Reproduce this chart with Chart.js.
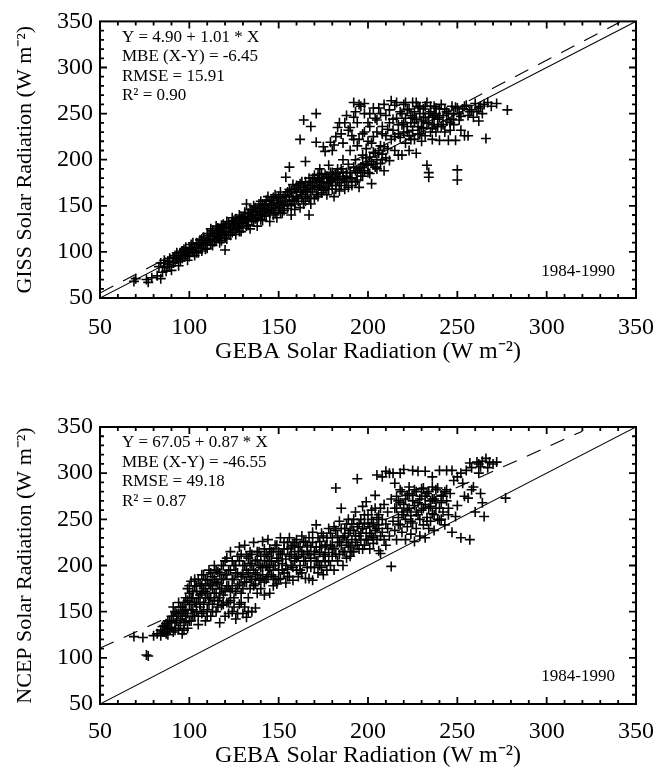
<!DOCTYPE html>
<html>
<head>
<meta charset="utf-8">
<script src="https://cdn.jsdelivr.net/npm/chart.js@4/dist/chart.umd.min.js"></script>
<style>
html,body{margin:0;padding:0;background:#fff;}
#wrap{position:relative;width:670px;height:770px;}
canvas{position:absolute;left:0;}
#c1{top:0;}
#c2{top:385px;}
</style>
</head>
<body>
<div id="wrap">
<canvas id="c1" width="670" height="385"></canvas>
<canvas id="c2" width="670" height="385"></canvas>
</div>
<script>
// ---------------- data ----------------
const tickValues = [50, 100, 150, 200, 250, 300, 350];
const xAxisTitle = 'GEBA Solar Radiation (W m\u207B\u00B2)';
const topYTitle = 'GISS Solar Radiation (W m\u207B\u00B2)';
const bottomYTitle = 'NCEP Solar Radiation (W m\u207B\u00B2)';
const topStats = ['Y = 4.90 + 1.01 * X', 'MBE (X-Y) = -6.45', 'RMSE = 15.91', 'R\u00B2 = 0.90'];
const bottomStats = ['Y = 67.05 + 0.87 * X', 'MBE (X-Y) = -46.55', 'RMSE = 49.18', 'R\u00B2 = 0.87'];
const periodLabel = '1984-1990';

const oneToOneLine = [[50, 50], [350, 350]];
const topFitLine = [[50, 55.4], [341, 349.3]];
const bottomFitLine = [[50, 110.6], [320, 345.5]];

// GEBA (x) vs GISS (y)
const gissPoints = [
[69,68],[70,71],[76,70],[77,67],[79,72],[82,74],[84,71],[85,78],[83,84],[84,88],[86,83],[87,79],[88,86],[86,91],[89,93],[90,80],[91,88],[92,96],[93,92],[94,85],[95,99],[96,93],[97,103],[98,97],[99,91],[100,104],[100,98],[101,108],[102,101],[103,96],[104,110],[104,104],[105,99],[106,113],[107,107],[107,101],[108,116],[109,110],[110,104],[110,120],[111,113],[112,108],[112,125],[113,117],[114,111],[115,121],[115,128],[116,115],[117,124],[117,110],[118,119],[119,130],[119,126],[120,102],[120,115],[121,122],[121,133],[122,127],[123,118],[124,131],[124,137],[125,124],[126,129],[126,119],[127,134],[128,140],[128,127],[129,122],[130,137],[130,131],[131,143],[132,128],[132,152],[133,135],[134,146],[134,125],[135,140],[136,133],[136,150],[137,143],[138,128],[138,137],[139,148],[140,155],[140,141],[141,134],[142,146],[142,152],[143,139],[144,160],[144,144],[145,133],[146,150],[146,156],[147,140],[148,147],[148,162],[149,137],[150,153],[150,145],[151,165],[152,158],[152,142],[153,150],[154,162],[154,181],[155,147],[156,168],[156,155],[156,192],[157,140],[158,160],[158,173],[159,152],[160,165],[160,158],[161,170],[162,222],[162,148],[163,162],[163,176],[164,243],[164,168],[165,155],[165,198],[166,172],[166,160],[167,140],[167,180],[168,236],[168,165],[169,175],[170,158],[170,183],[171,250],[171,219],[172,168],[172,178],[173,190],[173,172],[174,164],[174,185],[175,214],[175,176],[176,209],[176,170],[177,182],[177,162],[178,194],[178,175],[179,219],[179,186],[180,168],[180,178],[181,216],[181,160],[182,184],[182,172],[183,235],[183,190],[184,175],[184,166],[185,228],[185,190],[186,180],[186,200],[187,240],[187,168],[188,186],[188,176],[189,232],[189,195],[190,180],[190,210],[191,226],[191,172],[192,262],[192,246],[193,188],[193,200],[194,215],[194,178],[195,170],[195,222],[196,258],[196,192],[197,205],[197,182],[198,261],[198,230],[199,196],[199,212],[200,186],[200,240],[201,250],[201,203],[202,174],[202,218],[203,225],[203,195],[204,207],[204,245],[205,230],[205,190],[206,207],[206,256],[207,215],[208,236],[208,200],[209,188],[210,226],[210,248],[211,212],[212,199],[212,240],[213,264],[213,222],[214,232],[215,259],[215,210],[216,245],[217,228],[217,205],[218,252],[219,238],[219,205],[220,260],[220,230],[221,245],[221,218],[222,254],[222,236],[223,226],[223,210],[224,248],[224,240],[225,262],[225,232],[226,222],[226,252],[227,207],[227,244],[228,258],[228,236],[229,228],[229,250],[230,242],[230,220],[231,255],[231,234],[232,246],[232,226],[233,194],[233,262],[234,186],[234,240],[234,181],[235,252],[235,230],[236,246],[236,222],[237,258],[237,238],[238,250],[238,230],[239,244],[240,221],[240,255],[241,236],[242,248],[243,255],[243,230],[244,242],[245,221],[245,250],[246,232],[247,258],[247,244],[248,238],[249,257],[249,221],[250,189],[250,178],[251,243],[251,250],[252,232],[253,255],[254,226],[255,259],[256,226],[256,248],[258,254],[259,246],[260,261],[261,252],[262,242],[263,258],[264,250],[266,223],[267,262],[269,258],[272,261],[278,254],
[86,88],[88,90],[89,84],[91,94],[92,89],[93,99],[94,94],[95,90],[96,101],[97,96],[98,105],[99,100],[100,95],[101,103],[102,110],[103,105],[104,99],[105,108],[106,104],[107,114],[108,109],[109,103],[110,112],[111,118],[112,114],[113,107],[113,123],[114,118],[115,113],[116,126],[116,120],[117,116],[118,129],[118,112],[119,122],[120,118],[120,127],[121,114],[122,131],[122,121],[123,126],[124,121],[125,134],[125,129],[126,136],[127,126],[128,131],[128,122],[129,138],[129,132],[130,126],[131,136],[131,140],[132,133],[133,142],[133,129],[134,138],[135,145],[135,134],[136,140],[137,148],[137,136],[138,144],[139,140],[139,152],[140,135],[140,147],[141,144],[141,152],[142,139],[143,150],[143,156],[144,148],[145,142],[145,155],[146,146],[147,153],[147,159],[148,142],[149,152],[149,158],[150,148],[150,160],[151,155],[151,143],[152,150],[153,160],[153,145],[154,155],[155,165],[155,152],[156,160],[157,150],[157,166],[158,156],[159,168],[159,146],[160,160],[160,172],[161,155],[162,165],[162,174],[163,158],[164,170],[164,152],[165,166],[165,176],[166,165],[167,158],[167,172],[168,176],[168,152],[169,168],[169,180],[170,170],[171,162],[171,176],[172,184],[172,160],[173,178],[174,170],[175,180],[175,167],[176,184],[177,174],[178,180],[178,168],[179,176],[180,186],[180,172],[181,180],[182,168],[183,178],[183,186],[184,182],[185,172],[186,186],[187,178],[188,182],[189,170],[190,186],[191,180],[192,192],[193,176],[194,186],[195,190],[196,182],[197,195],[198,188],[199,202],[200,194],[201,185],[202,198],[203,208],[204,192],[205,200],[206,210],[207,196],[208,206],[209,214],[210,202],
[180,210],[182,225],[184,240],[186,218],[188,248],[190,235],[192,222],[193,252],[194,240],[195,260],[197,228],[198,250],[200,220],[201,236],[203,256],[205,243],[207,250],[208,228],[209,260],[211,233],[212,254],[214,244],[215,225],[216,262],[217,238],[218,224],[219,250],[220,240],[221,262],[222,230],[223,255],[224,222],[225,246],[226,240],[227,262],[228,228],[229,256],[230,235],[231,246],[232,258],[233,240],[234,250],[235,258],[236,234],[237,248],[238,256],[239,236],[240,246],[241,260],[242,238],[244,252],[246,240],[248,250],[250,256],[252,247],[254,258],[257,252],[262,256],[265,260]
];

// GEBA (x) vs NCEP (y)
const ncepPoints = [
[69,123],[74,122],[76,103],[77,102],[80,124],[82,126],[84,130],[84,124],[85,134],[86,128],[87,137],[88,131],[88,125],[89,140],[90,133],[90,145],[91,155],[91,128],[92,138],[93,148],[94,132],[94,160],[95,142],[96,155],[96,126],[97,150],[97,138],[98,165],[98,145],[99,175],[99,132],[100,158],[100,170],[101,140],[101,183],[102,152],[102,165],[103,178],[103,145],[104,160],[104,172],[105,136],[105,185],[106,155],[106,168],[107,148],[107,178],[108,190],[108,160],[109,140],[109,172],[110,184],[110,152],[111,165],[111,195],[112,145],[112,178],[113,158],[113,188],[114,170],[114,200],[115,150],[115,182],[116,162],[116,193],[117,138],[117,175],[118,185],[118,157],[119,200],[119,168],[120,145],[120,190],[121,178],[121,208],[122,160],[122,195],[123,172],[123,215],[124,150],[124,185],[125,200],[125,165],[126,142],[126,192],[127,178],[127,210],[128,158],[128,220],[129,188],[129,170],[130,148],[130,200],[131,222],[131,182],[132,144],[132,195],[133,208],[133,165],[134,188],[134,215],[135,150],[135,200],[136,178],[136,225],[137,154],[137,192],[138,206],[138,170],[139,184],[139,215],[140,198],[140,175],[141,226],[141,190],[142,205],[142,168],[143,212],[143,185],[144,198],[144,228],[145,170],[145,205],[146,190],[146,215],[147,178],[147,200],[148,222],[148,185],[149,208],[149,180],[150,195],[150,215],[151,230],[151,186],[152,202],[152,212],[153,192],[153,225],[154,181],[154,207],[155,218],[155,196],[156,230],[156,188],[157,212],[157,200],[158,222],[158,184],[159,205],[159,215],[160,195],[160,228],[161,210],[161,188],[162,220],[162,200],[163,232],[163,192],[164,212],[164,205],[165,225],[165,186],[166,215],[166,198],[167,230],[167,186],[168,208],[168,220],[169,184],[169,236],[170,212],[170,198],[171,244],[171,220],[172,205],[172,192],[173,226],[173,214],[174,198],[174,235],[175,210],[175,190],[176,222],[176,204],[177,230],[177,195],[178,214],[178,240],[179,200],[179,222],[180,210],[180,230],[181,195],[181,218],[182,284],[182,238],[183,205],[183,225],[184,212],[184,248],[185,262],[185,222],[186,230],[186,200],[187,215],[187,240],[188,225],[188,208],[189,250],[189,235],[190,210],[190,220],[191,245],[191,228],[192,215],[192,238],[193,258],[193,225],[194,294],[194,242],[195,232],[195,218],[196,250],[196,228],[197,264],[197,240],[198,222],[198,246],[199,269],[199,235],[200,228],[200,255],[201,242],[201,218],[202,260],[202,232],[203,246],[203,224],[204,276],[204,238],[205,252],[205,228],[206,244],[206,216],[207,213],[207,262],[208,236],[208,250],[209,228],[209,266],[210,245],[210,222],[211,240],[211,258],[212,300],[212,232],[213,199],[213,272],[214,248],[214,300],[215,289],[215,238],[216,262],[216,228],[217,252],[217,270],[218,282],[218,244],[219,236],[219,258],[220,304],[220,266],[221,250],[221,228],[222,276],[222,242],[223,278],[223,262],[224,234],[224,254],[225,270],[225,246],[226,226],[226,282],[227,258],[227,240],[228,302],[228,268],[229,250],[229,232],[230,275],[230,260],[231,244],[231,284],[232,230],[232,266],[233,252],[233,278],[234,240],[234,262],[235,270],[235,248],[236,285],[236,256],[237,238],[237,272],[238,282],[238,262],[239,250],[240,303],[240,249],[241,268],[241,276],[242,258],[243,280],[243,244],[244,270],[245,262],[246,278],[247,303],[247,236],[248,292],[249,253],[250,296],[250,265],[252,230],[253,289],[254,275],[255,303],[256,273],[257,311],[257,228],[258,282],[259,285],[260,258],[261,312],[262,300],[263,278],[263,307],[264,268],[265,253],[266,316],[267,306],[270,310],[272,312],[277,273],
[85,128],[86,135],[87,126],[88,140],[89,132],[90,138],[91,145],[92,130],[92,150],[93,140],[94,148],[95,135],[95,155],[96,145],[97,160],[97,130],[98,152],[98,140],[99,162],[99,148],[100,140],[100,178],[101,165],[101,152],[102,172],[102,145],[103,160],[103,185],[104,150],[104,178],[105,165],[105,145],[106,180],[106,158],[107,170],[107,190],[108,150],[108,175],[109,165],[109,185],[110,145],[110,170],[111,180],[111,158],[112,192],[112,165],[113,175],[113,150],[114,185],[114,162],[115,195],[115,170],[116,155],[116,180],[117,192],[117,165],[118,175],[118,200],[119,158],[119,185],[120,172],[120,205],[121,160],[121,190],[122,178],[122,148],[123,195],[123,162],[124,205],[124,175],[125,185],[125,155],[126,200],[126,172],[127,192],[127,148],[128,180],[128,205],[129,160],[129,212],[130,190],[130,175],[131,200],[131,155],[132,210],[132,182],[133,192],[133,150],[134,202],[134,175],[135,212],[135,185],[136,195],[137,205],[137,180],[138,215],[138,190],[139,200],[140,210],[140,186],[141,198],[142,218],[142,182],[143,200],[144,210],[144,188],[145,218],[145,195],[146,205],[147,215],[147,188],[148,200],[149,222],[150,205],[150,185],[151,212],[152,195],[153,218],[154,200],[155,225],[155,188],[156,210],[157,220],[158,198],[159,225],[160,208],[161,220],[162,195],[163,215],[164,226],[165,205],[166,222],[167,212],[168,198],[169,225],[170,215],[171,205],[172,230],[173,200],[174,220],[175,232],[176,212],[177,222],[178,205],[179,235],[180,220],[181,242],[182,212],[183,232],[184,225],[185,240],[186,215],[187,232],[188,245],[189,222],[190,238],[191,215],[192,250],[193,232],[194,222],[195,245],[196,235],[197,218],[198,255],[199,228],[200,245],[201,235],[202,250],[203,230],[204,262],[205,240],[206,255],[207,232],
[215,262],[216,275],[217,245],[218,268],[219,280],[220,255],[221,272],[222,260],[223,285],[224,248],[225,276],[226,265],[227,280],[228,255],[229,272],[230,283],[231,262],[232,275],[233,248],[234,280],[235,264],[236,272],[237,255],[238,270],[239,284],[240,262],[241,250],[242,275],[244,282],[245,255],
[205,298],[208,296],[210,302],[218,300],[225,303],[232,302],[236,296],[244,303],[252,300],[258,306],[262,310],[264,313],[268,312]
];

// ---------------- drawing ----------------
const FONT = '"Liberation Serif", "Times New Roman", serif';
const toXY = arr => arr.map(p => ({x: p[0], y: p[1]}));

const frameTicks = {
  id: 'frameTicks',
  afterDraw(chart) {
    const {ctx, chartArea: a, scales: {x, y}} = chart;
    ctx.save();
    ctx.strokeStyle = '#000';
    ctx.lineWidth = 2;
    ctx.strokeRect(a.left, a.top, a.right - a.left, a.bottom - a.top);
    const major = 7, minor = 4;
    ctx.lineWidth = 1.8;
    ctx.beginPath();
    for (let i = 0; i < tickValues.length - 1; i++) {
      const v0 = tickValues[i];
      const step = (tickValues[i + 1] - v0) / 5;
      for (let k = 0; k < 5; k++) {
        if (k === 0 && i === 0) continue;
        const v = v0 + k * step;
        const len = k === 0 ? major : minor;
        const px = x.getPixelForValue(v);
        const py = y.getPixelForValue(v);
        ctx.moveTo(px, a.bottom); ctx.lineTo(px, a.bottom - len);
        ctx.moveTo(px, a.top); ctx.lineTo(px, a.top + len);
        ctx.moveTo(a.left, py); ctx.lineTo(a.left + len, py);
        ctx.moveTo(a.right, py); ctx.lineTo(a.right - len, py);
      }
    }
    ctx.stroke();
    const opts = chart.options.plugins.frameTicks;
    ctx.fillStyle = '#000';
    ctx.font = '17px ' + FONT;
    ctx.textAlign = 'left';
    ctx.textBaseline = 'middle';
    opts.stats.forEach((s, i) => {
      ctx.fillText(s, a.left + 22, a.top + 16 + i * 19.5);
    });
    ctx.textAlign = 'right';
    ctx.font = '17px ' + FONT;
    ctx.fillText(periodLabel, a.right - 21, a.bottom - opts.periodOffset);
    ctx.restore();
  }
};

function makeChart(id, pts, fitLine, yTitle, stats, padTop, xAxisHeight, xTickPad, xTitlePad, periodOffset) {
  const tickFont = {family: FONT, size: 24};
  const yTitleFont = {family: FONT, size: 22};
  return new Chart(document.getElementById(id), {
    data: {
      datasets: [
        {
          type: 'scatter',
          data: toXY(pts),
          pointStyle: 'cross',
          pointRadius: 5,
          borderColor: '#000',
          backgroundColor: '#000',
          borderWidth: 1.6,
          order: 3
        },
        {
          type: 'line',
          data: toXY(oneToOneLine),
          borderColor: '#000',
          borderWidth: 1.1,
          pointRadius: 0,
          fill: false,
          order: 2
        },
        {
          type: 'line',
          data: toXY(fitLine),
          borderColor: '#000',
          borderWidth: 1.1,
          borderDash: [15, 11],
          pointRadius: 0,
          fill: false,
          order: 1
        }
      ]
    },
    options: {
      responsive: false,
      animation: false,
      events: [],
      layout: {padding: {left: 0, top: padTop, right: 34, bottom: 0}},
      plugins: {
        legend: {display: false},
        tooltip: {enabled: false},
        frameTicks: {stats: stats, periodOffset: periodOffset}
      },
      scales: {
        x: {
          type: 'linear',
          min: 50, max: 350,
          afterBuildTicks(s) { s.ticks = tickValues.map(v => ({value: v})); },
          afterFit(s) { s.height = xAxisHeight; },
          grid: {display: false, drawTicks: false},
          border: {display: false},
          ticks: {autoSkip: false, maxRotation: 0, padding: xTickPad, color: '#000', font: tickFont},
          title: {display: true, text: xAxisTitle, color: '#000', font: tickFont, padding: {top: 0, bottom: xTitlePad}}
        },
        y: {
          type: 'linear',
          min: 50, max: 350,
          afterBuildTicks(s) { s.ticks = tickValues.map(v => ({value: v})); },
          afterFit(s) { s.width = 100; },
          grid: {display: false, drawTicks: false},
          border: {display: false},
          ticks: {padding: 7, color: '#000', font: tickFont},
          title: {display: true, text: yTitle, color: '#000', font: yTitleFont, padding: {top: 12, bottom: 0}}
        }
      }
    },
    plugins: [frameTicks]
  });
}

makeChart('c1', gissPoints, topFitLine, topYTitle, topStats, 21, 87, 15, 18.5, 26);
makeChart('c2', ncepPoints, bottomFitLine, bottomYTitle, bottomStats, 42, 66, 13, 0, 27);
</script>
</body>
</html>
